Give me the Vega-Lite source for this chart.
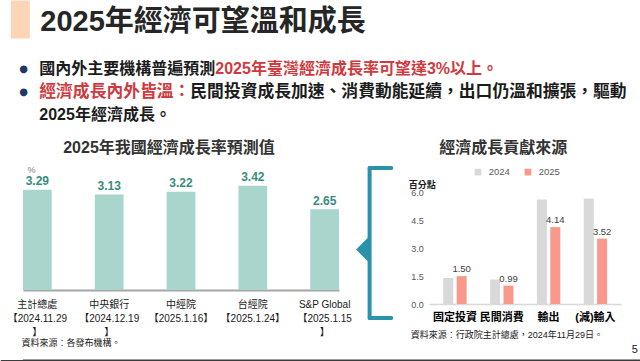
{
  "$schema": "https://vega.github.io/schema/vega-lite/v6.json",
  "padding": 0,
  "background": "white",
  "columns": 1,
  "align": "none",
  "spacing": -6.5,
  "resolve": {"scale": {"color": "independent", "x": "independent", "y": "independent"}, "legend": {"color": "independent"}},
  "config": {
    "font": "Liberation Sans, Noto Sans CJK TC",
    "view": {"stroke": null},
    "axis": {"grid": false}
  },
  "concat": [
    {
      "width": 1,
      "height": 38,
      "data": {"values": [{"標題": "2025年經濟可望溫和成長"}]},
      "mark": {"type": "text", "align": "left", "baseline": "middle", "dx": 17.3, "dy": 3, "fontSize": 29, "fontWeight": "bold", "color": "#262626"},
      "encoding": {
        "text": {"field": "標題"},
        "x": {"datum": 0, "type": "quantitative", "scale": {"domain": [0, 1]}, "axis": null},
        "y": {
          "datum": 0.5,
          "type": "quantitative",
          "scale": {"domain": [0, 1]},
          "axis": {"labels": false, "ticks": false, "domain": true, "domainColor": "#fbd5b5", "domainWidth": 19, "domainCap": "butt", "offset": 3.2, "title": null}
        }
      }
    },
    {
      "width": 617.3,
      "height": 115,
      "data": {
        "values": [
          {"行號": 1, "段": "一般", "項目符號": true, "文字": "國內外主要機構普遍預測"},
          {"行號": 1, "段": "強調", "項目符號": false, "文字": "\u200b　　　　　　　　　　　2025年臺灣經濟成長率可望達3%以上。"},
          {"行號": 2, "段": "強調", "項目符號": true, "文字": "經濟成長內外皆溫："},
          {"行號": 2, "段": "一般", "項目符號": false, "文字": "\u200b　　　　　　　　　民間投資成長加速、消費動能延續，出口仍溫和擴張，驅動"},
          {"行號": 3, "段": "一般", "項目符號": false, "文字": "2025年經濟成長。"}
        ]
      },
      "encoding": {
        "x": {"datum": 0, "type": "quantitative", "scale": {"domain": [0, 1]}, "axis": null},
        "y": {
          "field": "行號",
          "type": "quantitative",
          "scale": {"domain": [-0.6087, 4.3913], "reverse": true, "nice": false, "zero": false},
          "axis": null
        }
      },
      "layer": [
        {
          "transform": [{"filter": {"field": "行號", "oneOf": [1, 3]}}],
          "mark": {"type": "text", "align": "left", "baseline": "middle", "dx": 16.3, "fontSize": 16, "fontWeight": "bold"},
          "encoding": {
            "text": {"field": "文字"},
            "color": {"field": "段", "type": "nominal", "scale": {"domain": ["一般", "強調"], "range": ["#1c1c1c", "#cf3a40"]}, "legend": null}
          }
        },
        {
          "transform": [{"filter": {"field": "行號", "equal": 2}}],
          "mark": {"type": "text", "align": "left", "baseline": "middle", "dx": 16.3, "fontSize": 16.8, "fontWeight": "bold"},
          "encoding": {
            "text": {"field": "文字"},
            "color": {"field": "段", "type": "nominal", "scale": {"domain": ["一般", "強調"], "range": ["#1c1c1c", "#cf3a40"]}, "legend": null}
          }
        },
        {
          "transform": [{"filter": {"field": "項目符號", "equal": true}}],
          "mark": {"type": "text", "text": "●", "font": "DejaVu Sans", "fontSize": 10, "color": "#1f3864", "align": "center", "baseline": "middle", "dx": 0.6}
        }
      ]
    },
    {
      "bounds": "flush",
      "spacing": 30.6,
      "resolve": {"scale": {"color": "independent"}, "legend": {"color": "independent"}},
      "hconcat": [
        {
          "width": 316,
          "height": 122,
          "title": {
            "text": "2025年我國經濟成長率預測值",
            "fontSize": 16,
            "fontWeight": "bold",
            "color": "#333333",
            "anchor": "middle",
            "frame": "group",
            "baseline": "bottom",
            "dx": -12,
            "offset": -7
          },
          "data": {
            "values": [
              {"機構": "主計總處", "發布日期": "2024.11.29", "成長率": 3.29},
              {"機構": "中央銀行", "發布日期": "2024.12.19", "成長率": 3.13},
              {"機構": "中經院", "發布日期": "2025.1.16", "成長率": 3.22},
              {"機構": "台經院", "發布日期": "2025.1.24", "成長率": 3.42},
              {"機構": "S&P Global", "發布日期": "2025.1.15", "成長率": 2.65}
            ]
          },
          "encoding": {
            "x": {
              "field": "機構",
              "type": "nominal",
              "sort": null,
              "scale": {"paddingInner": 0.6, "paddingOuter": 0},
              "axis": {
                "title": "資料來源：各發布機構。",
                "titleX": -2,
                "titleY": 52,
                "titleAlign": "left",
                "titleBaseline": "middle",
                "titleFontSize": 9,
                "titleFontWeight": "normal",
                "titleColor": "#1a1a1a",
                "domainColor": "#a6a6a6",
                "domainWidth": 2,
                "ticks": false,
                "labelAngle": 0,
                "labelPadding": 9,
                "labelFontSize": 10,
                "labelColor": "#1a1a1a",
                "labelLineHeight": 14,
                "labelOverlap": false,
                "labelExpr": "datum.value == '主計總處' ? ['主計總處', '【2024.11.29', '】'] : datum.value == '中央銀行' ? ['中央銀行', '【2024.12.19', '】'] : datum.value == '中經院' ? ['中經院', '【2025.1.16】'] : datum.value == '台經院' ? ['台經院', '【2025.1.24】'] : ['S&P Global', '【2025.1.15', '】']"
              }
            },
            "y": {
              "field": "成長率",
              "type": "quantitative",
              "scale": {"domain": [0, 4], "nice": false},
              "axis": {
                "title": "%",
                "titleAngle": 0,
                "titleX": 4,
                "titleY": 1,
                "titleAlign": "left",
                "titleBaseline": "middle",
                "titleFontSize": 9,
                "titleFontWeight": "normal",
                "titleColor": "#808080",
                "labels": false,
                "ticks": false,
                "domain": false,
                "grid": false,
                "minExtent": 22.7,
                "maxExtent": 22.7
              }
            }
          },
          "layer": [
            {"mark": {"type": "bar", "color": "#a8d5cc"}},
            {
              "mark": {"type": "text", "baseline": "bottom", "dy": -1.5, "fontSize": 12, "fontWeight": "bold", "color": "#388c7d"},
              "encoding": {"text": {"field": "成長率", "type": "quantitative", "format": ".2f"}}
            }
          ]
        },
        {
          "width": 28.1,
          "height": 150,
          "data": {"values": [{}]},
          "layer": [
            {
              "mark": {"type": "rule", "color": "#2b92ab", "strokeWidth": 4, "strokeCap": "round"},
              "encoding": {
                "x": {"datum": 0, "type": "quantitative", "scale": {"domain": [0, 1], "nice": false}, "axis": null},
                "y": {"datum": 0, "type": "quantitative", "scale": {"domain": [0, 1], "nice": false}, "axis": null},
                "y2": {"datum": 1}
              }
            },
            {
              "mark": {"type": "rule", "color": "#2b92ab", "strokeWidth": 4, "strokeCap": "round"},
              "encoding": {
                "x": {"datum": 0, "type": "quantitative"},
                "x2": {"datum": 0.772},
                "y": {"datum": 1, "type": "quantitative"}
              }
            },
            {
              "mark": {"type": "rule", "color": "#2b92ab", "strokeWidth": 4, "strokeCap": "round"},
              "encoding": {
                "x": {"datum": 0, "type": "quantitative"},
                "x2": {"datum": 0.772},
                "y": {"datum": 0, "type": "quantitative"}
              }
            },
            {
              "mark": {"type": "point", "shape": "M -1 0 L 0 -1 L 0 1 Z", "size": 729, "filled": true, "color": "#2b92ab", "opacity": 1, "strokeWidth": 0},
              "encoding": {
                "x": {"datum": 0, "type": "quantitative"},
                "y": {"datum": 0.456, "type": "quantitative"}
              }
            }
          ]
        },
        {
          "width": 192,
          "height": 136,
          "title": {
            "text": "經濟成長貢獻來源",
            "fontSize": 16,
            "fontWeight": "bold",
            "color": "#333333",
            "anchor": "middle",
            "frame": "group",
            "baseline": "bottom",
            "dx": -22,
            "offset": -5
          },
          "data": {
            "values": [
              {"項目": "固定投資", "年": "2024", "貢獻": 1.40},
              {"項目": "固定投資", "年": "2025", "貢獻": 1.50},
              {"項目": "民間消費", "年": "2024", "貢獻": 1.32},
              {"項目": "民間消費", "年": "2025", "貢獻": 0.99},
              {"項目": "輸出", "年": "2024", "貢獻": 5.62},
              {"項目": "輸出", "年": "2025", "貢獻": 4.14},
              {"項目": "(減)輸入", "年": "2024", "貢獻": 5.68},
              {"項目": "(減)輸入", "年": "2025", "貢獻": 3.52}
            ]
          },
          "encoding": {
            "x": {
              "field": "項目",
              "type": "nominal",
              "sort": null,
              "scale": {"paddingInner": 0.5, "paddingOuter": 0.3},
              "axis": {
                "title": "資料來源：行政院主計總處，2024年11月29日。",
                "titleX": -19,
                "titleY": 30,
                "titleAlign": "left",
                "titleBaseline": "middle",
                "titleFontSize": 9,
                "titleFontWeight": "normal",
                "titleColor": "#1a1a1a",
                "domainColor": "#d9d9d9",
                "domainWidth": 1.5,
                "ticks": false,
                "labelAngle": 0,
                "labelPadding": 7,
                "labelFontSize": 11,
                "labelFontWeight": "bold",
                "labelColor": "#000000"
              }
            },
            "xOffset": {"field": "年", "type": "nominal", "scale": {"paddingInner": 0.25}},
            "y": {
              "field": "貢獻",
              "type": "quantitative",
              "scale": {"domain": [0, 7.32], "nice": false},
              "axis": {
                "values": [0, 1.5, 3, 4.5, 6],
                "format": ".1f",
                "labelFontSize": 9,
                "labelColor": "#595959",
                "labelPadding": 6,
                "ticks": false,
                "domain": false,
                "grid": false,
                "title": "百分點",
                "titleAngle": 0,
                "titleX": -21,
                "titleY": 16,
                "titleAlign": "left",
                "titleBaseline": "middle",
                "titleFontSize": 9,
                "titleFontWeight": "bold",
                "titleColor": "#1a1a1a"
              }
            }
          },
          "layer": [
            {
              "mark": {"type": "bar"},
              "encoding": {
                "color": {
                  "field": "年",
                  "type": "nominal",
                  "scale": {"domain": ["2024", "2025"], "range": ["#d9d9d9", "#f8998b"]},
                  "legend": {
                    "orient": "none",
                    "legendX": 44,
                    "legendY": -1,
                    "direction": "horizontal",
                    "title": null,
                    "symbolType": "square",
                    "symbolSize": 45,
                    "symbolStrokeWidth": 0,
                    "labelFontSize": 9.5,
                    "labelColor": "#595959",
                    "labelOffset": 6,
                    "columnPadding": 13,
                    "padding": 0
                  }
                }
              }
            },
            {
              "mark": {"type": "text", "baseline": "bottom", "dy": -2, "fontSize": 9.5, "color": "#404040"},
              "encoding": {
                "text": {
                  "condition": {"test": {"field": "年", "equal": "2025"}, "field": "貢獻", "type": "quantitative", "format": ".2f"},
                  "value": ""
                }
              }
            }
          ]
        }
      ]
    },
    {
      "width": 617.3,
      "height": 3,
      "view": {"fill": "#3b3b3b", "stroke": null},
      "data": {"values": [{"頁碼": "5"}]},
      "mark": {"type": "text", "text": ""},
      "encoding": {
        "x": {
          "datum": 0,
          "type": "quantitative",
          "scale": {"domain": [0, 1], "range": [-22.7, 617.3]},
          "axis": {
            "orient": "top",
            "offset": -1.5,
            "labels": false,
            "ticks": false,
            "domain": true,
            "domainColor": "#3b3b3b",
            "domainWidth": 3,
            "domainCap": "butt",
            "minExtent": 20.5,
            "maxExtent": 20.5,
            "title": "5",
            "titleX": 614.3,
            "titleY": -11.5,
            "titleAlign": "right",
            "titleBaseline": "middle",
            "titleFontSize": 11,
            "titleFontWeight": "normal",
            "titleColor": "#1a1a1a"
          }
        }
      }
    }
  ]
}
